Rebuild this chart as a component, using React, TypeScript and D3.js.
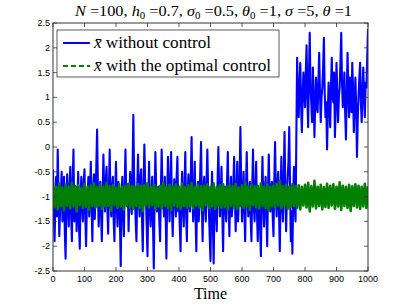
import React from 'react';
import * as d3 from 'd3';

const blueStep = 2.5;
const withoutControl = [
  -0.45, -1.3, -1.9, -1.1, -0.6, -1.4, -0.05, -0.9, -1.8, -1.25, -0.9, -0.5, -1.5, -1.05, -0.6, -1.7, -2.25, -1.1, -0.55, -1.2,
  -1.6, -0.8, -0.4, -1.35, -1.9, -0.7, -0.05, -1.5, -1.2, -0.8, -1.7, -1.15, -0.5, -1.6, -2.05, -1.0, -0.6, -1.2, -1.5, -0.7,
  -0.45, -1.4, -2.0, -1.2, -0.9, -0.6, -1.4, -1.0, -0.3, -1.2, -1.9, -0.85, -0.55, -1.45, -1.0, -0.4, 0.35, -0.8, -1.6, -1.1,
  -0.7, -1.3, -1.9, -1.0, -0.15, -0.9, -1.3, -0.7, -0.4, -1.2, -1.75, -0.9, -0.05, -1.1, -1.4, -0.8, -0.6, -1.45, -1.9, -0.9,
  -0.3, -1.2, -1.6, -0.7, -0.9, -1.5, -2.4, -1.1, -0.6, -1.3, -1.8, -0.8, -0.05, -0.95, -1.2, -0.75, -1.7, -1.0, -0.5, -1.15,
  -1.35, -0.5, 0.65, -0.6, -1.0, -1.5, -1.9, -0.8, -0.15, -1.1, -1.4, -0.6, -0.45, -1.4, -2.1, -0.9, 0.05, -0.7, -1.0, -1.6,
  -2.2, -1.1, -0.3, -1.2, -1.6, -0.9, -0.6, -1.55, -2.45, -1.0, -0.1, -0.8, -1.3, -1.0, -0.8, -1.5, -1.9, -0.9, -0.05, -0.85,
  -1.1, -1.4, -0.6, -1.3, -2.25, -1.0, -0.2, -0.9, -1.5, -0.75, -0.1, -1.2, -1.8, -1.1, -0.65, -1.0, -1.4, -0.6, -0.2, -1.3,
  -1.1, -1.6, -2.1, -1.0, -0.5, -1.2, -1.6, -0.8, -0.1, -1.3, -1.9, -0.95, -0.55, -1.15, -1.3, -0.6, 0.2, -0.9, -1.5, -1.0,
  -0.3, -1.4, -2.1, -1.05, -0.7, -1.5, -1.2, -0.5, 0.1, -1.1, -1.9, -0.85, -0.6, -1.2, -1.5, -0.7, -0.05, -0.9, -1.3, -1.8,
  -2.3, -1.1, -0.5, -1.5, -2.35, -1.2, -0.9, -1.3, -1.7, -0.7, 0.0, -0.9, -1.4, -0.95, -0.4, -1.3, -2.1, -1.0, -0.8, -1.25,
  -1.5, -0.7, -0.1, -1.1, -1.8, -1.0, -0.6, -1.4, -1.2, -0.75, -0.2, -1.05, -1.7, -0.9, -0.3, -1.5, -1.05, -0.6, 0.4, -0.8,
  -1.5, -1.0, -0.5, -1.3, -1.9, -0.9, -0.1, -0.95, -1.4, -1.0, -0.7, -1.45, -1.9, -0.8, -0.05, -1.2, -1.5, -0.85, -0.3, -1.3,
  -1.9, -1.2, -0.9, -1.6, -2.2, -1.0, -0.2, -1.1, -1.6, -0.9, -0.6, -1.35, -2.0, -0.9, -0.15, -1.0, -1.3, -0.8, -0.7, -1.4,
  -1.8, -0.7, 0.1, -0.9, -1.4, -0.8, -0.5, -1.3, -2.1, -1.0, -0.2, -1.15, -1.5, -0.6, 0.3, -0.9, -1.7, -1.0, -0.6, -0.3,
  0.4, -0.8, -1.9, -1.3, -2.15, -1.0, -0.4, -1.2, -1.5, 0.2, 1.8, 1.1, 0.6, 1.2, 1.7, 0.9, 0.3, 1.0, 1.5, 1.1,
  0.8, 1.5, 2.05, 1.0, 0.4, 1.4, 2.3, 1.2, 0.9, 0.5, 1.6, 1.0, 0.2, 0.9, 1.4, 0.8, 0.7, 1.3, 1.9, 1.1,
  0.5, 1.0, 1.2, 1.6, 2.2, 1.1, 0.6, 0.9, -0.05, 0.7, 1.3, 0.9, 0.4, 1.2, 1.8, 1.0, 0.9, 1.5, 0.2, 0.8,
  1.7, 1.1, 0.5, 1.0, 1.2, 1.7, 2.3, 1.3, 0.8, 1.1, 1.5, 0.7, 0.15, 1.0, 1.9, 1.2, 0.6, 1.4, 1.1, 0.7,
  1.7, 1.2, 0.3, 0.9, 1.4, 0.8, -0.2, 0.6, 1.0, 1.4, 1.7, 0.9, 0.5, 1.1, 1.6, 1.0, 0.6, 1.3, 1.2, 1.8,
  2.38,
];

// x̄ with the optimal control, sampled every 5 time steps
const greenStep = 5;
const optimalControl = [
  -0.78, -1.22, -0.8, -1.26, -0.74, -1.2, -0.82, -1.28, -0.76, -1.18,
  -0.8, -1.24, -0.72, -1.2, -0.79, -1.3, -0.77, -1.17, -0.83, -1.23,
  -0.75, -1.21, -0.8, -1.27, -0.78, -1.19, -0.73, -1.22, -0.81, -1.18,
  -0.76, -1.25, -0.8, -1.2, -0.72, -1.19, -0.79, -1.29, -0.77, -1.17,
  -0.82, -1.23, -0.75, -1.2, -0.8, -1.26, -0.78, -1.18, -0.74, -1.22,
  -0.79, -1.25, -0.81, -1.19, -0.75, -1.23, -0.78, -1.3, -0.77, -1.18,
  -0.73, -1.22, -0.8, -1.17, -0.76, -1.26, -0.82, -1.2, -0.78, -1.24,
  -0.72, -1.19, -0.8, -1.23, -0.76, -1.27, -0.79, -1.18, -0.75, -1.21,
  -0.8, -1.25, -0.74, -1.19, -0.81, -1.22, -0.77, -1.2, -0.72, -1.24,
  -0.8, -1.18, -0.76, -1.22, -0.79, -1.28, -0.78, -1.17, -0.75, -1.23,
  -0.8, -1.2, -0.73, -1.25, -0.81, -1.19, -0.77, -1.23, -0.75, -1.21,
  -0.8, -1.26, -0.76, -1.18, -0.79, -1.22, -0.74, -1.25, -0.82, -1.19,
  -0.77, -1.23, -0.71, -1.2, -0.8, -1.27, -0.76, -1.17, -0.79, -1.22,
  -0.78, -1.24, -0.73, -1.19, -0.8, -1.23, -0.75, -1.29, -0.8, -1.2,
  -0.78, -1.22, -0.74, -1.18, -0.68, -1.24, -0.79, -1.2, -0.76, -1.25,
  -0.8, -1.21, -0.75, -1.19, -0.79, -1.23, -0.77, -1.26, -0.8, -1.18,
  -0.76, -1.22, -0.72, -1.3, -0.79, -1.2, -0.68, -1.24, -0.8, -1.19,
  -0.76, -1.26, -0.81, -1.21, -0.74, -1.23, -0.78, -1.18, -0.75, -1.25,
  -0.8, -1.2, -0.71, -1.27, -0.78, -1.19, -0.8, -1.23, -0.76, -1.29,
  -0.79, -1.19, -0.75, -1.22, -0.78, -1.25, -0.8, -1.2, -0.74, -1.23,
  -0.79,
];

const xTicks = [0, 100, 200, 300, 400, 500, 600, 700, 800, 900, 1000];
const yTicks = [-2.5, -2, -1.5, -1, -0.5, 0, 0.5, 1, 1.5, 2, 2.5];

const width = 407;
const height = 306;
const plot = { left: 53, right: 368, top: 23, bottom: 271 };
const serif = "'Liberation Serif', 'DejaVu Serif', serif";
const sans = "'Liberation Sans', Arial, sans-serif";

export default function App() {
  const x = d3.scaleLinear().domain([0, 1000]).range([plot.left, plot.right]);
  const y = d3.scaleLinear().domain([-2.5, 2.5]).range([plot.bottom, plot.top]);

  const lineFor = (step: number) => d3.line<number>()
    .x((_, i) => x(i * step))
    .y(d => y(d));

  const tickLen = 4;

  return (
    <>
      <style>{`body{margin:0}`}</style>
      <svg width={width} height={height} style={{ display: 'block', background: '#fff' }}>
        <defs>
          <clipPath id="plot-clip">
            <rect x={plot.left} y={plot.top} width={plot.right - plot.left} height={plot.bottom - plot.top} />
          </clipPath>
        </defs>

        {/* series */}
        <g clipPath="url(#plot-clip)" fill="none" strokeLinejoin="round">
          <path d={lineFor(blueStep)(withoutControl) || ''} stroke="#0000ff" strokeWidth={2.1} />
          <path d={lineFor(greenStep)(optimalControl) || ''} stroke="#007f00" strokeWidth={2.6} />
        </g>

        {/* box + ticks */}
        <rect x={plot.left} y={plot.top} width={plot.right - plot.left} height={plot.bottom - plot.top}
          fill="none" stroke="#333" strokeWidth={1} />
        <g stroke="#333" strokeWidth={0.8}>
          {xTicks.map(t => (
            <g key={'xt' + t}>
              <line x1={x(t)} x2={x(t)} y1={plot.bottom} y2={plot.bottom - tickLen} />
              <line x1={x(t)} x2={x(t)} y1={plot.top} y2={plot.top + tickLen} />
            </g>
          ))}
          {yTicks.map(t => (
            <g key={'yt' + t}>
              <line x1={plot.left} x2={plot.left + tickLen} y1={y(t)} y2={y(t)} />
              <line x1={plot.right} x2={plot.right - tickLen} y1={y(t)} y2={y(t)} />
            </g>
          ))}
        </g>
        <g fontFamily={sans} fontSize={9} fill="#000">
          {xTicks.map(t => (
            <text key={'xl' + t} x={x(t)} y={plot.bottom + 11} textAnchor="middle">{t}</text>
          ))}
          {yTicks.map(t => (
            <text key={'yl' + t} x={plot.left - 3} y={y(t) + 3} textAnchor="end">{t}</text>
          ))}
        </g>

        {/* x label */}
        <text x={(plot.left + plot.right) / 2} y={299} textAnchor="middle" fontFamily={serif} fontSize={16}>Time</text>

        {/* title */}
        <text x={75} y={16} fontFamily={serif} fontSize={15} textLength={277} lengthAdjust="spacingAndGlyphs">
          <tspan fontStyle="italic">N</tspan> =100, <tspan fontStyle="italic">h</tspan>
          <tspan fontSize={10} dy={3}>0</tspan><tspan dy={-3}> =0.7, </tspan>
          <tspan fontStyle="italic">σ</tspan><tspan fontSize={10} dy={3}>0</tspan><tspan dy={-3}> =0.5, </tspan>
          <tspan fontStyle="italic">θ</tspan><tspan fontSize={10} dy={3}>0</tspan><tspan dy={-3}> =1, </tspan>
          <tspan fontStyle="italic">σ</tspan> =5, <tspan fontStyle="italic">θ</tspan> =1
        </text>

        {/* legend */}
        <g>
          <rect x={57} y={30} width={222} height={47} fill="#fff" stroke="#333" strokeWidth={0.8} />
          <line x1={63} x2={90} y1={43} y2={43} stroke="#0000ff" strokeWidth={2} />
          <line x1={63} x2={90} y1={66} y2={66} stroke="#007f00" strokeWidth={2} strokeDasharray="5,3" />
          <text x={94} y={48} fontFamily={serif} fontSize={16} textLength={117} lengthAdjust="spacingAndGlyphs">
            <tspan fontStyle="italic">x̄</tspan> without control
          </text>
          <text x={94} y={71} fontFamily={serif} fontSize={16} textLength={177} lengthAdjust="spacingAndGlyphs">
            <tspan fontStyle="italic">x̄</tspan> with the optimal control
          </text>
        </g>
      </svg>
    </>
  );
}
